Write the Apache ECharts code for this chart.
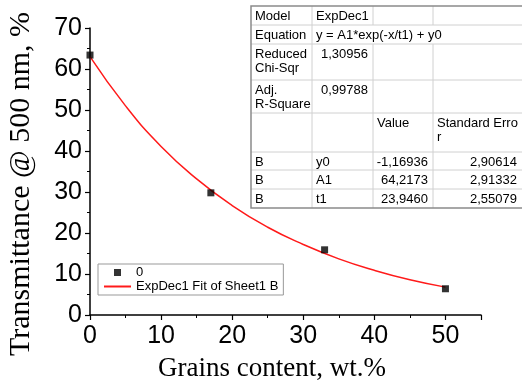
<!DOCTYPE html>
<html>
<head>
<meta charset="utf-8">
<script src="https://cdn.jsdelivr.net/npm/echarts@6/dist/echarts.min.js"></script>
<style>html,body{margin:0;padding:0;background:#fff}#c{width:522px;height:385px}</style>
</head>
<body>
<div id="c"></div>
<script>
// Measured data points
var pointX = [0, 17, 33, 50];
var pointY = [63.4, 29.8, 15.9, 6.4];
// Fit curve values
var fitX = [0, 5, 10, 15, 20, 25, 30, 35, 40, 45, 50];
var fitY = [63.0, 51.0, 41.1, 33.2, 26.7, 21.4, 17.2, 13.7, 10.9, 8.6, 6.8];
// Fit results table
var tableRows = [
  ["Model", "ExpDec1", "", ""],
  ["Equation", "y = A1*exp(-x/t1) + y0", null, null],
  ["Reduced\nChi-Sqr", "1,30956", "", ""],
  ["Adj.\nR-Square", "0,99788", "", ""],
  ["", "", "Value", "Standard Erro\nr"],
  ["B", "y0", "-1,16936", "2,90614"],
  ["B", "A1", "64,2173", "2,91332"],
  ["B", "t1", "23,9460", "2,55079"]
];
var seriesNames = ["0", "ExpDec1 Fit of Sheet1 B"];
var xTitle = "Grains content, wt.%";
var yTitle = "Transmittance @ 500 nm, %";

var chart = echarts.init(document.getElementById('c'));

var rowB = [6, 25, 44, 80, 113, 152, 170, 189, 208];
var colB = [251, 312, 373, 433, 522];
var g = [];
g.push({type:'rect', shape:{x:colB[0], y:rowB[0], width:colB[4]-colB[0]+2, height:rowB[8]-rowB[0]},
  style:{fill:'#fff', stroke:null}, z:100});
for (var r = 1; r < rowB.length - 1; r++) {
  g.push({type:'line', shape:{x1:colB[0], y1:rowB[r], x2:colB[4], y2:rowB[r]},
    style:{stroke:'#d0d0d0', lineWidth:1}, z:101});
}
for (var c = 1; c < colB.length - 1; c++) {
  for (var r2 = 0; r2 < rowB.length - 1; r2++) {
    if (r2 === 1 && c > 1) continue;
    g.push({type:'line', shape:{x1:colB[c], y1:rowB[r2], x2:colB[c], y2:rowB[r2+1]},
      style:{stroke:'#d0d0d0', lineWidth:1}, z:101});
  }
}
g.push({type:'polyline', shape:{points:[[colB[4]+2, rowB[0]],[colB[0], rowB[0]],[colB[0], rowB[8]],[colB[4]+2, rowB[8]]]},
  style:{stroke:'#8a8a8a', lineWidth:1.5, fill:null}, z:102});
for (var ri = 0; ri < tableRows.length; ri++) {
  for (var ci = 0; ci < 4; ci++) {
    var t = tableRows[ri][ci];
    if (!t) continue;
    var rightAlign = /^-?\d/.test(t) && ci >= 1 && ri !== 0 && ri !== 1;
    g.push({type:'text', z:103,
      style:{text:t, x: rightAlign ? colB[ci+1]-5 : colB[ci]+4, y: rowB[ri]+3,
        textAlign: rightAlign ? 'right' : 'left', textVerticalAlign:'top',
        font:'13px "Liberation Sans", Arial, sans-serif', lineHeight:14, fill:'#000'}});
  }
}
g.push({type:'text', z:10, style:{text:xTitle, x:272, y:369, textAlign:'center', textVerticalAlign:'middle',
  font:'27px "Liberation Serif", "Times New Roman", serif', fill:'#000'}});
g.push({type:'text', z:10, x:21, y:184, rotation:Math.PI/2, style:{text:yTitle, x:0, y:0, textAlign:'center', textVerticalAlign:'middle',
  font:'30px "Liberation Serif", "Times New Roman", serif', fill:'#000'}});

var axisFont = {fontFamily:'"Liberation Sans", Arial, sans-serif', fontSize:25, color:'#000'};

chart.setOption({
  animation:false,
  backgroundColor:'#fff',
  grid:{left:90, right:41, top:28, bottom:70},
  xAxis:{type:'value', min:0, max:55, interval:10,
    axisLine:{lineStyle:{color:'#000', width:1.5}},
    axisTick:{show:true, inside:false, length:5, lineStyle:{color:'#000', width:1.2}},
    minorTick:{show:true, splitNumber:2, length:3, lineStyle:{color:'#000', width:1}},
    splitLine:{show:false},
    axisLabel:Object.assign({margin:9, showMaxLabel:false}, axisFont)},
  yAxis:{type:'value', min:0, max:70, interval:10,
    axisLine:{show:true, lineStyle:{color:'#000', width:1.5}},
    axisTick:{show:true, inside:false, length:5, lineStyle:{color:'#000', width:1.2}},
    minorTick:{show:true, splitNumber:2, length:3, lineStyle:{color:'#000', width:1}},
    splitLine:{show:false},
    axisLabel:Object.assign({margin:8}, axisFont)},
  legend:{orient:'vertical', left:98, top:264, padding:[2,5,2,5], itemGap:1, itemWidth:27, itemHeight:7,
    borderColor:'#999', borderWidth:1, backgroundColor:'#fff',
    textStyle:{fontFamily:'"Liberation Sans", Arial, sans-serif', fontSize:13, color:'#000'},
    data:[{name:seriesNames[0], icon:'path://M0,0L10,0L10,10L0,10Z'},
          {name:seriesNames[1], itemStyle:{opacity:0}}]},
  series:[
    {name:seriesNames[1], type:'line', smooth:true, showSymbol:false, symbol:'none',
      data:fitX.map(function(x,i){return [x, fitY[i]];}),
      lineStyle:{color:'#ff1a1a', width:1.5}, itemStyle:{color:'#ff1a1a'}, z:3},
    {name:seriesNames[0], type:'scatter', symbol:'rect', symbolSize:7,
      data:pointX.map(function(x,i){return [x, pointY[i]];}),
      itemStyle:{color:'#000'}, z:4}
  ],
  graphic:g
});
</script>
</body>
</html>
